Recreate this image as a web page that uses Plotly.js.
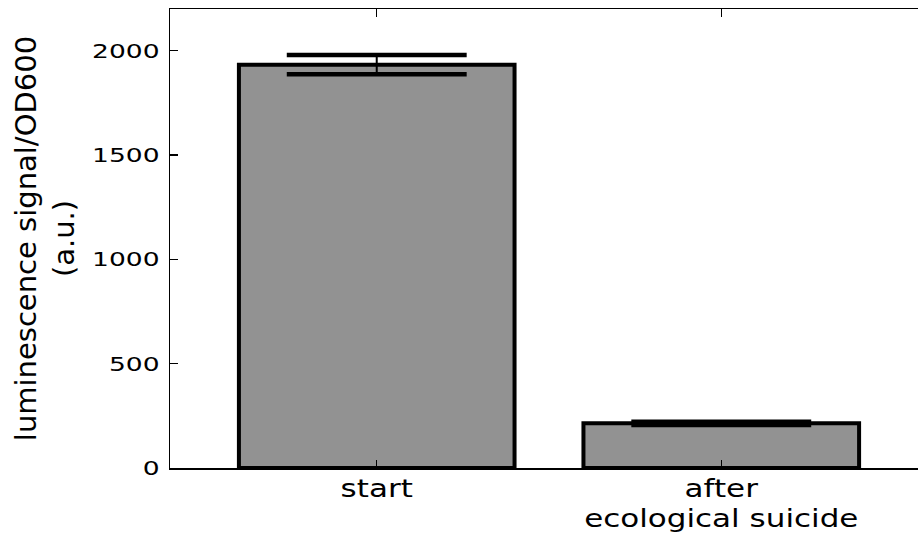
<!DOCTYPE html>
<html>
<head>
<meta charset="utf-8">
<script src="https://cdn.plot.ly/plotly-3.0.1.min.js"></script>
<style>html,body{margin:0;padding:0;overflow:hidden;background:#fff;}#chart{width:940px;height:537px;}</style>
</head>
<body>
<div id="chart"></div>
<script>
const categories = ["start", "after<br>ecological suicide"];
const values = [1933, 214];
const errors = [46, 8];
const yTicks = [0, 500, 1000, 1500, 2000];

const upper = values.map((v, i) => v + errors[i]);
const lower = values.map((v, i) => v - errors[i]);

const bars = {
  type: "bar",
  x: categories,
  y: values,
  width: 0.8,
  marker: {color: "#929292", line: {color: "#000", width: 4}},
  error_y: {type: "data", array: errors, visible: true, color: "#000", thickness: 2, width: 0},
  hoverinfo: "none"
};
const caps = {
  type: "scatter", mode: "markers",
  x: categories.concat(categories),
  y: upper.concat(lower),
  marker: {symbol: "line-ew", size: 128.5, line: {color: "#000", width: 4.5}},
  hoverinfo: "none"
};

const yfont = {family: "DejaVu Sans, sans-serif", size: 19.5, color: "#000"};
const xfont = {family: "DejaVu Sans, sans-serif", size: 25, color: "#000"};
const tfont = {family: "DejaVu Sans, sans-serif", size: 29, color: "#000"};
const layout = {
  width: 940, height: 537,
  margin: {l: 170, r: 12, t: 8.5, b: 69},
  paper_bgcolor: "#fff", plot_bgcolor: "#fff",
  showlegend: false,
  bargap: 0,
  xaxis: {
    type: "category", range: [-0.6, 1.6],
    showline: true, linecolor: "#000", linewidth: 1.5, mirror: "allticks",
    ticks: "inside", ticklen: 8, tickwidth: 1.3, tickcolor: "#000",
    showgrid: false, zeroline: false, tickfont: xfont, automargin: false,
    ticklabelstandoff: -2
  },
  yaxis: {
    range: [0, 2200], tickvals: yTicks, ticktext: yTicks.map(String),
    showline: true, linecolor: "#000", linewidth: 1.5, mirror: "allticks",
    ticks: "inside", ticklen: 8, tickwidth: 1.3, tickcolor: "#000",
    showgrid: false, zeroline: false, tickfont: yfont, ticklabelstandoff: 5,
    automargin: false,
    title: {text: "luminescence signal/OD600<br>(a.u.)", font: tfont, standoff: 27}
  }
};

function stretch(sel, sx, anchor) {
  document.querySelectorAll(sel).forEach(t => {
    t.querySelectorAll("tspan[dy]").forEach(s => {
      if (s.getAttribute("dy") === "1.3em") s.setAttribute("dy", "1.18em");
    });
    const b = t.getBBox();
    const ax = anchor === "end" ? b.x + b.width : b.x + b.width / 2;
    const prev = t.getAttribute("transform") || "";
    t.setAttribute("transform", prev + " translate(" + ax + ",0) scale(" + sx + ",1) translate(" + (-ax) + ",0)");
  });
}

Plotly.newPlot("chart", [bars, caps], layout, {displayModeBar: false, staticPlot: true}).then(() => {
  stretch(".ytick text", 1.36, "end");
  stretch(".xtick text", 1.24, "middle");
});
</script>
</body>
</html>
